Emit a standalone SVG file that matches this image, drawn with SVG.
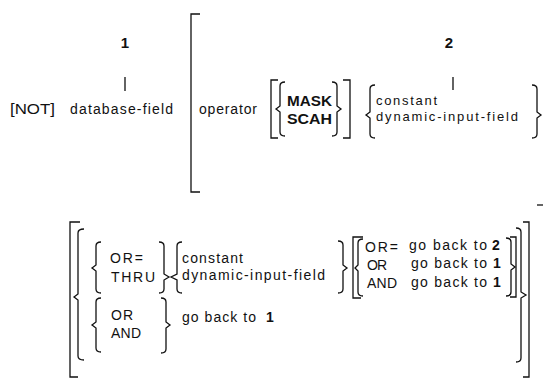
<svg xmlns="http://www.w3.org/2000/svg" width="543" height="379" viewBox="0 0 543 379">
<style>
text{font-family:"Liberation Sans",Arial,sans-serif;font-size:14px;fill:#111}
.s{font-size:13px}
.b{font-weight:bold}
.n{font-weight:bold;font-size:15px;text-anchor:middle}
.d{font-weight:bold;font-size:14px}
path{fill:none;stroke:#111;stroke-width:1.3}
</style>
<rect width="543" height="379" fill="#fff"/>
<g id="top">
  <text class="n" x="125" y="48">1</text>
  <text class="n" x="449" y="48">2</text>
  <text x="10" y="114" textLength="45" lengthAdjust="spacingAndGlyphs">[NOT]</text>
  <text x="70" y="114" textLength="103" lengthAdjust="spacing">database-field</text>
  <text x="199" y="114" textLength="58" lengthAdjust="spacing">operator</text>
  <text class="b" x="287" y="106" textLength="45" lengthAdjust="spacingAndGlyphs">MASK</text>
  <text class="b" x="287" y="124" textLength="45" lengthAdjust="spacingAndGlyphs">SCAH</text>
  <text class="s" x="376" y="105" textLength="61" lengthAdjust="spacing">constant</text>
  <text class="s" x="376" y="121" textLength="142" lengthAdjust="spacing">dynamic-input-field</text>
</g>
<g id="top-brackets">
  <path d="M125,77 V91 M453,77 V90"/>
  <path d="M200,14 H191 V192 H200"/>
  <path d="M278,80 H271 V138 H278"/>
  <path d="M285,82 Q280,82 280,86 V106 L276,109 L280,112 V132 Q280,136 285,136"/>
  <path d="M332,82 Q337,82 337,86 V106 L341,109 L337,112 V132 Q337,136 332,136"/>
  <path d="M343,80 H350 V138 H343"/>
  <path d="M375,85 Q370,85 370,89 V112 L366,115 L370,118 V134 Q370,138 375,138"/>
  <path d="M532,85 Q537,85 537,89 V112 L541,115 L537,118 V134 Q537,138 532,138"/>
</g>
<g id="bottom">
  <text x="110" y="263" textLength="33" lengthAdjust="spacing">OR=</text>
  <text x="111" y="282" textLength="44" lengthAdjust="spacing">THRU</text>
  <text x="182" y="263" textLength="61" lengthAdjust="spacing">constant</text>
  <text x="182" y="280" textLength="143" lengthAdjust="spacing">dynamic-input-field</text>
  <text x="111" y="320" textLength="22" lengthAdjust="spacing">OR</text>
  <text x="111" y="338" textLength="30" lengthAdjust="spacing">AND</text>
  <text x="182" y="322" textLength="74" lengthAdjust="spacing">go back to</text>
  <text class="d" x="266" y="322">1</text>
  <text x="365" y="252" textLength="33" lengthAdjust="spacing">OR=</text>
  <text x="367" y="270" textLength="20" lengthAdjust="spacing">OR</text>
  <text x="367" y="288" textLength="30" lengthAdjust="spacing">AND</text>
  <text x="409" y="250" textLength="78" lengthAdjust="spacing">go back to</text>
  <text class="d" x="492" y="250">2</text>
  <text x="411" y="268" textLength="76" lengthAdjust="spacing">go back to</text>
  <text class="d" x="493" y="268">1</text>
  <text x="411" y="287" textLength="76" lengthAdjust="spacing">go back to</text>
  <text class="d" x="493" y="287">1</text>
</g>
<g id="bottom-brackets">
  <path d="M80,222 H70 V377 H78"/>
  <path d="M84,229 Q78,229 78,233 V294 L74,297 L78,300 V356 Q78,360 84,360"/>
  <path d="M101,242 Q96,242 96,246 V265 L92,268 L96,271 V289 Q96,293 101,293"/>
  <path d="M159,242 Q164,242 164,246 V274 L169,277 L164,280 V289 Q164,293 159,293"/>
  <path d="M182,242 Q177,242 177,246 V274 L171,277 L177,280 V289 Q177,293 182,293"/>
  <path d="M338,241 Q343,241 343,245 V265 L347,268 L343,271 V289 Q343,293 338,293"/>
  <path d="M363,237 H353 V298 H361"/>
  <path d="M363,239 Q358,239 358,243 V265 L355,268 L358,271 V292 Q358,296 363,296"/>
  <path d="M506,238 Q511,238 511,242 V264 L515,267 L511,270 V292 Q511,296 506,296"/>
  <path d="M510,237 H516 V297 H510"/>
  <path d="M516,228 Q521,228 521,232 V292 L526,295 L521,298 V358 Q521,362 516,362"/>
  <path d="M523,222 H529 V377 H523"/>
  <path d="M537,205 H543"/>
  <path d="M101,298 Q96,298 96,302 V322 L92,325 L96,328 V348 Q96,352 101,352"/>
  <path d="M161,298 Q166,298 166,302 V322 L170,325 L166,328 V349 Q166,353 161,353"/>
</g>
</svg>
